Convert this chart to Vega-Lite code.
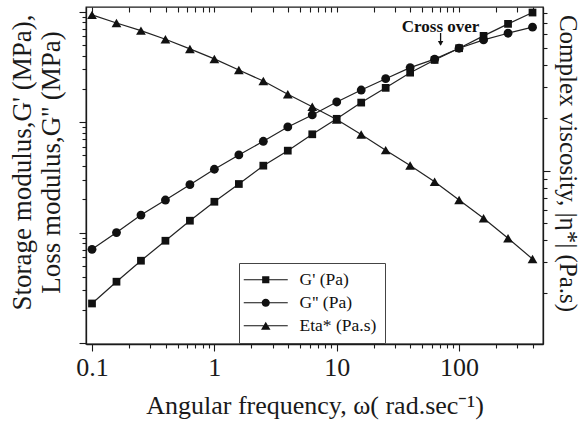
{
  "$schema": "https://vega.github.io/schema/vega-lite/v6.json",
  "width": 457,
  "height": 337,
  "autosize": {"type": "none"},
  "padding": {"left": 86, "top": 7, "right": 44, "bottom": 85},
  "background": "white",
  "config": {
    "view": {"stroke": "#1a1a1a", "strokeWidth": 1.3},
    "font": "Liberation Serif",
    "axis": {
      "labelFont": "Liberation Serif", "titleFont": "Liberation Serif", "titleFontWeight": "normal",
      "labelColor": "#1a1a1a", "titleColor": "#1a1a1a", "domainColor": "#1a1a1a", "tickColor": "#1a1a1a",
      "domainWidth": 1.3, "tickWidth": 1.1, "grid": false, "labelFontSize": 26, "titleFontSize": 26
    },
    "legend": {"labelFont": "Liberation Serif"}
  },
  "datasets": {
    "main": [
      {"w": 0.1, "s": "G' (Pa)", "v": 2280}, {"w": 0.1585, "s": "G' (Pa)", "v": 3590}, {"w": 0.2512, "s": "G' (Pa)", "v": 5560},
      {"w": 0.3981, "s": "G' (Pa)", "v": 8430}, {"w": 0.631, "s": "G' (Pa)", "v": 12800}, {"w": 1, "s": "G' (Pa)", "v": 19000},
      {"w": 1.585, "s": "G' (Pa)", "v": 27500}, {"w": 2.512, "s": "G' (Pa)", "v": 40300}, {"w": 3.981, "s": "G' (Pa)", "v": 55100},
      {"w": 6.31, "s": "G' (Pa)", "v": 77500}, {"w": 10, "s": "G' (Pa)", "v": 107000}, {"w": 15.85, "s": "G' (Pa)", "v": 150000},
      {"w": 25.12, "s": "G' (Pa)", "v": 204000}, {"w": 39.81, "s": "G' (Pa)", "v": 280000}, {"w": 63.1, "s": "G' (Pa)", "v": 365000},
      {"w": 100, "s": "G' (Pa)", "v": 466000}, {"w": 158.5, "s": "G' (Pa)", "v": 603000}, {"w": 251.2, "s": "G' (Pa)", "v": 774000},
      {"w": 398.1, "s": "G' (Pa)", "v": 980000},
      {"w": 0.1, "s": "G'' (Pa)", "v": 7050}, {"w": 0.1585, "s": "G'' (Pa)", "v": 10000}, {"w": 0.2512, "s": "G'' (Pa)", "v": 14400},
      {"w": 0.3981, "s": "G'' (Pa)", "v": 19700}, {"w": 0.631, "s": "G'' (Pa)", "v": 27100}, {"w": 1, "s": "G'' (Pa)", "v": 37400},
      {"w": 1.585, "s": "G'' (Pa)", "v": 50400}, {"w": 2.512, "s": "G'' (Pa)", "v": 67000}, {"w": 3.981, "s": "G'' (Pa)", "v": 90300},
      {"w": 6.31, "s": "G'' (Pa)", "v": 116000}, {"w": 10, "s": "G'' (Pa)", "v": 152000}, {"w": 15.85, "s": "G'' (Pa)", "v": 195000},
      {"w": 25.12, "s": "G'' (Pa)", "v": 247000}, {"w": 39.81, "s": "G'' (Pa)", "v": 311000}, {"w": 63.1, "s": "G'' (Pa)", "v": 371000},
      {"w": 100, "s": "G'' (Pa)", "v": 466000}, {"w": 158.5, "s": "G'' (Pa)", "v": 554000}, {"w": 251.2, "s": "G'' (Pa)", "v": 637000},
      {"w": 398.1, "s": "G'' (Pa)", "v": 723000},
      {"w": 0.1, "s": "Eta* (Pa.s)", "v": 77600}, {"w": 0.1585, "s": "Eta* (Pa.s)", "v": 69800}, {"w": 0.2512, "s": "Eta* (Pa.s)", "v": 63100},
      {"w": 0.3981, "s": "Eta* (Pa.s)", "v": 56300}, {"w": 0.631, "s": "Eta* (Pa.s)", "v": 49600}, {"w": 1, "s": "Eta* (Pa.s)", "v": 43500},
      {"w": 1.585, "s": "Eta* (Pa.s)", "v": 37600}, {"w": 2.512, "s": "Eta* (Pa.s)", "v": 32500}, {"w": 3.981, "s": "Eta* (Pa.s)", "v": 27300},
      {"w": 6.31, "s": "Eta* (Pa.s)", "v": 23200}, {"w": 10, "s": "Eta* (Pa.s)", "v": 19600}, {"w": 15.85, "s": "Eta* (Pa.s)", "v": 16100},
      {"w": 25.12, "s": "Eta* (Pa.s)", "v": 13100}, {"w": 39.81, "s": "Eta* (Pa.s)", "v": 10700}, {"w": 63.1, "s": "Eta* (Pa.s)", "v": 8650},
      {"w": 100, "s": "Eta* (Pa.s)", "v": 6800}, {"w": 158.5, "s": "Eta* (Pa.s)", "v": 5350}, {"w": 251.2, "s": "Eta* (Pa.s)", "v": 4110},
      {"w": 398.1, "s": "Eta* (Pa.s)", "v": 3130}
    ],
    "note": [{"w": 70.6, "t": "Cross over", "vt": 726000, "v1": 640000, "v2": 500000, "va": 515000}]
  },
  "layer": [
    {
      "layer": [
        {
          "data": {"name": "main"},
          "transform": [{"filter": "datum.s != 'Eta* (Pa.s)'"}],
          "mark": {"type": "line", "color": "#222", "strokeWidth": 1.2},
          "encoding": {
            "x": {
              "field": "w", "type": "quantitative",
              "scale": {"type": "log", "domain": [0.0893, 485], "nice": false},
              "axis": {
                "orient": "bottom",
                "values": [0.1,0.2,0.3,0.4,0.5,0.6,0.7,0.8,0.9,1,2,3,4,5,6,7,8,9,10,20,30,40,50,60,70,80,90,100,200,300,400],
                "format": "~g",
                "labelExpr": "(datum.value == 0.1 || datum.value == 1 || datum.value == 10 || datum.value == 100) ? datum.label : ''",
                "tickSize": {"condition": {"test": "datum.value == 0.1 || datum.value == 1 || datum.value == 10 || datum.value == 100", "value": 7}, "value": 4},
                "labelPadding": 3,
                "labelFlush": false,
                "labelOverlap": false,
                "title": "Angular frequency, ω( rad.sec⁻¹)",
                "titleBaseline": "middle",
                "titleY": 61
              }
            },
            "y": {
              "field": "v", "type": "quantitative",
              "scale": {"type": "log", "domain": [980, 1100000], "nice": false},
              "axis": {
                "orient": "left",
                "values": [1000,2000,3000,4000,5000,6000,7000,8000,9000,10000,20000,30000,40000,50000,60000,70000,80000,90000,100000,200000,300000,400000,500000,600000,700000,800000,900000,1000000],
                "labels": false,
                "tickSize": {"condition": {"test": "datum.value == 1000 || datum.value == 10000 || datum.value == 100000 || datum.value == 1000000", "value": 7}, "value": 4},
                "title": ["Storage modulus,G' (MPa),", "Loss modulus,G'' (MPa)"],
                "titleFontSize": 27,
                "titleAngle": -90,
                "titleAlign": "center",
                "titleBaseline": "middle",
                "titleLineHeight": 29,
                "titleX": -64,
                "titleY": 155
              }
            },
            "detail": {"field": "s"}
          }
        },
        {
          "data": {"name": "main"},
          "transform": [{"filter": "datum.s == \"G' (Pa)\""}],
          "mark": {"type": "point", "shape": "square", "filled": true, "color": "#111", "opacity": 1, "size": 60},
          "encoding": {
            "x": {"field": "w", "type": "quantitative"},
            "y": {"field": "v", "type": "quantitative"}
          }
        },
        {
          "data": {"name": "main"},
          "transform": [{"filter": "datum.s == \"G'' (Pa)\""}],
          "mark": {"type": "point", "shape": "circle", "filled": true, "color": "#111", "opacity": 1, "size": 78},
          "encoding": {
            "x": {"field": "w", "type": "quantitative"},
            "y": {"field": "v", "type": "quantitative"}
          }
        },
        {
          "data": {"name": "main"},
          "transform": [{"filter": "datum.s != 'Eta* (Pa.s)'"}],
          "mark": {"type": "point", "filled": true, "color": "#111", "opacity": 1, "size": 0},
          "encoding": {
            "x": {"field": "w", "type": "quantitative"},
            "y": {"field": "v", "type": "quantitative"},
            "shape": {
              "field": "s", "type": "nominal",
              "scale": {
                "domain": ["G' (Pa)", "G'' (Pa)", "Eta* (Pa.s)"],
                "range": [
                  "M-4.4,-0.11H-0.7V0.11H-4.4Z M0.7,-0.11H4.4V0.11H0.7Z M-0.72,-0.72H0.72V0.72H-0.72Z",
                  "M-4.4,-0.11H-0.75V0.11H-4.4Z M0.75,-0.11H4.4V0.11H0.75Z M0.82,0A0.82,0.82,0,1,1,-0.82,0A0.82,0.82,0,1,1,0.82,0Z",
                  "M-4.4,-0.11H-0.45V0.11H-4.4Z M0.45,-0.11H4.4V0.11H0.45Z M0,-0.82L0.95,0.82H-0.95Z"
                ]
              },
              "legend": {
                "orient": "none", "legendX": 153, "legendY": 256, "title": null, "direction": "vertical",
                "labelFont": "Liberation Serif", "labelFontSize": 17.5, "labelColor": "#111",
                "strokeColor": "#444", "fillColor": "white", "padding": 8, "rowPadding": 4, "columnPadding": 0,
                "symbolSize": 100, "symbolOffset": 10, "labelOffset": 25,
                "symbolOpacity": 1, "symbolFillColor": "#111", "symbolStrokeWidth": 0
              }
            }
          }
        },
        {
          "data": {"name": "note"},
          "mark": {"type": "text", "font": "Liberation Serif", "fontWeight": "bold", "fontSize": 17, "color": "#111", "baseline": "middle"},
          "encoding": {
            "x": {"field": "w", "type": "quantitative"},
            "y": {"field": "vt", "type": "quantitative"},
            "text": {"field": "t"}
          }
        },
        {
          "data": {"name": "note"},
          "mark": {"type": "rule", "color": "#111", "strokeWidth": 1.3},
          "encoding": {
            "x": {"field": "w", "type": "quantitative"},
            "y": {"field": "v1", "type": "quantitative"},
            "y2": {"field": "v2"}
          }
        },
        {
          "data": {"name": "note"},
          "mark": {"type": "point", "shape": "triangle-down", "filled": true, "color": "#111", "opacity": 1, "size": 30},
          "encoding": {
            "x": {"field": "w", "type": "quantitative"},
            "y": {"field": "va", "type": "quantitative"}
          }
        }
      ]
    },
    {
      "layer": [
        {
          "data": {"name": "main"},
          "transform": [{"filter": "datum.s == 'Eta* (Pa.s)'"}],
          "mark": {"type": "line", "color": "#222", "strokeWidth": 1.2},
          "encoding": {
            "x": {
              "field": "w", "type": "quantitative",
              "axis": {
                "orient": "top",
                "values": [0.1,0.2,0.3,0.4,0.5,0.6,0.7,0.8,0.9,1,2,3,4,5,6,7,8,9,10,20,30,40,50,60,70,80,90,100,200,300,400],
                "labels": false,
                "domain": false,
                "offset": -5,
                "tickSize": 5,
                "title": null
              }
            },
            "y": {
              "field": "v", "type": "quantitative",
              "scale": {"type": "log", "domain": [1023, 86100], "nice": false},
              "axis": {
                "orient": "right",
                "values": [2000,3000,4000,5000,6000,7000,8000,9000,10000,20000,30000,40000,50000,60000,70000,80000],
                "labels": false,
                "tickSize": {"condition": {"test": "datum.value == 10000", "value": 7}, "value": 4},
                "title": "Complex viscosity, |η*| (Pa.s)",
                "titleFontSize": 25,
                "titleAngle": 90,
                "titleAlign": "center",
                "titleBaseline": "middle",
                "titleX": 24,
                "titleY": 156
              }
            }
          }
        },
        {
          "data": {"name": "main"},
          "transform": [{"filter": "datum.s == 'Eta* (Pa.s)'"}],
          "mark": {"type": "point", "shape": "triangle-up", "filled": true, "color": "#111", "opacity": 1, "size": 95},
          "encoding": {
            "x": {"field": "w", "type": "quantitative"},
            "y": {"field": "v", "type": "quantitative"}
          }
        }
      ]
    }
  ],
  "resolve": {"scale": {"y": "independent"}, "axis": {"x": "independent"}}
}
